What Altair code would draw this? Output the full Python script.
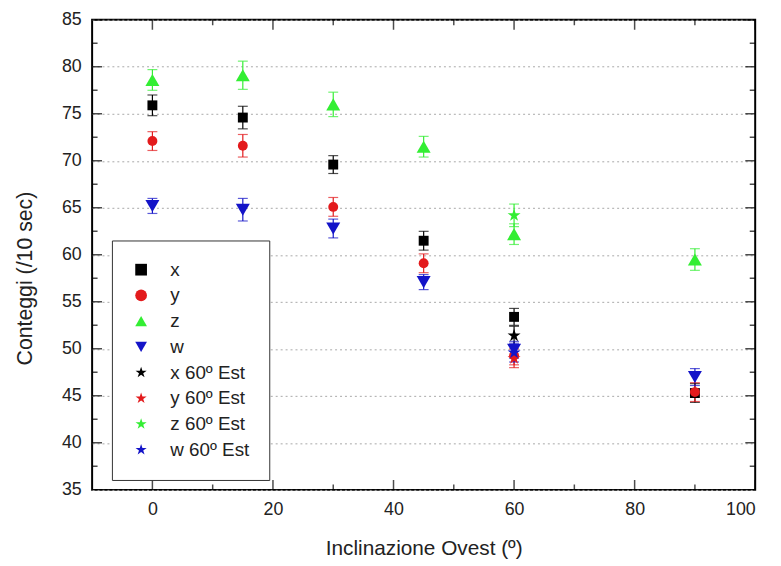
import altair as alt
import pandas as pd

# five-point star as a unit SVG path (Vega has no built-in star symbol)
STAR = ("M0,-1L0.225,-0.309L0.951,-0.309L0.363,0.118L0.588,0.809L0,0.382"
        "L-0.588,0.809L-0.363,0.118L-0.951,-0.309L-0.225,-0.309Z")

series = ["x", "y", "z", "w", "x 60º Est", "y 60º Est", "z 60º Est", "w 60º Est"]
colors = ["#000000", "#e31a1c", "#33ee33", "#1414c8", "#000000", "#e31a1c", "#33ee33", "#1414c8"]
shapes = ["square", "circle", "triangle-up", "triangle-down", STAR, STAR, STAR, STAR]
sizes = [100, 100, 200, 200, 190, 190, 190, 190]

angles = [0, 15, 30, 45, 60, 90]
x_vals = [75.9, 74.6, 69.6, 61.5, 53.4, 45.3]
x_err = [1.1, 1.2, 0.95, 1.0, 0.9, 1.0]
y_vals = [72.1, 71.6, 65.1, 59.1, 49.3, 45.4]
y_err = [1.0, 1.2, 1.0, 1.0, 1.0, 1.0]
z_vals = [78.6, 79.1, 76.0, 71.5, 62.2, 59.5]
z_err = [1.1, 1.5, 1.3, 1.1, 1.1, 1.15]
w_vals = [65.2, 64.8, 62.8, 57.1, 49.9, 47.0]
w_err = [0.8, 1.2, 1.0, 0.8, 0.9, 0.9]
est_angle = 60
est_vals = [51.4, 49.0, 64.2, 49.6]
est_err = [1.0, 1.0, 1.2, 1.0]

x_domain = [-10, 100]
y_domain = [35, 85]
x_major = [0, 20, 40, 60, 80, 100]
x_minor = [10, 30, 50, 70, 90]
y_major = [35, 40, 45, 50, 55, 60, 65, 70, 75, 80, 85]
y_minor = [37.5, 42.5, 47.5, 52.5, 57.5, 62.5, 67.5, 72.5, 77.5, 82.5]

size_of = dict(zip(series, sizes))
rows = []
for name, vals, errs in zip(series[:4], [x_vals, y_vals, z_vals, w_vals], [x_err, y_err, z_err, w_err]):
    for a, v, e in zip(angles, vals, errs):
        rows.append(dict(series=name, angle=a, val=v, lo=v - e, hi=v + e, msize=size_of[name]))
for name, v, e in zip(series[4:], est_vals, est_err):
    rows.append(dict(series=name, angle=est_angle, val=v, lo=v - e, hi=v + e, msize=size_of[name]))
df = pd.DataFrame(rows)

W, H = 670, 475
FONT = "Liberation Sans"
xscale = alt.Scale(domain=x_domain, nice=False, zero=False)
yscale = alt.Scale(domain=y_domain, nice=False, zero=False)
cscale = alt.Scale(domain=series, range=colors)
sscale = alt.Scale(domain=series, range=shapes)

x_axis = alt.Axis(values=x_major, ticks=False, domain=False, grid=False,
                  labelFontSize=18, labelFont=FONT, labelColor="#222", labelPadding=11,
                  title="Inclinazione Ovest (º)", titleFont=FONT, titleFontSize=21,
                  titleFontWeight="normal", titleColor="#222", titlePadding=19)
y_axis = alt.Axis(values=y_major, ticks=False, domain=False, grid=True,
                  gridDash=[2, 3], gridColor="#a8a8a8", gridWidth=1,
                  labelFontSize=18, labelFont=FONT, labelColor="#222", labelPadding=11,
                  title="Conteggi (/10 sec)", titleFont=FONT, titleFontSize=21.5,
                  titleFontWeight="normal", titleColor="#222", titlePadding=25, titleY=261)

legend = alt.Legend(orient="none", legendX=20, legendY=223,
                    labelFontSize=19, labelFont=FONT, labelColor="#222",
                    symbolSize=140, symbolStrokeWidth=0, symbolOpacity=1, rowPadding=6,
                    labelOffset=20, padding=20, strokeColor="#333", fillColor="white")

base = alt.Chart(df)

bars = base.mark_rule(strokeWidth=1.2).encode(
    x=alt.X("angle:Q", scale=xscale, axis=x_axis),
    y=alt.Y("lo:Q", scale=yscale, axis=y_axis),
    y2="hi:Q",
    color=alt.Color("series:N", scale=cscale, title=None, legend=legend),
)
cap_lo = base.mark_tick(orient="horizontal", size=10, thickness=1.2).encode(
    x=alt.X("angle:Q", scale=xscale), y=alt.Y("lo:Q", scale=yscale),
    color=alt.Color("series:N", scale=cscale, title=None, legend=legend),
)
cap_hi = base.mark_tick(orient="horizontal", size=10, thickness=1.2).encode(
    x=alt.X("angle:Q", scale=xscale), y=alt.Y("hi:Q", scale=yscale),
    color=alt.Color("series:N", scale=cscale, title=None, legend=legend),
)
points = base.mark_point(filled=True, opacity=1).encode(
    x=alt.X("angle:Q", scale=xscale),
    y=alt.Y("val:Q", scale=yscale),
    color=alt.Color("series:N", scale=cscale, title=None, legend=legend),
    shape=alt.Shape("series:N", scale=sscale, title=None, legend=legend),
    size=alt.Size("msize:Q", scale=None, legend=None),
)


def y_ticks(values, edge, length):
    d = pd.DataFrame({"v": values, "edge": [edge] * len(values)})
    return alt.Chart(d).mark_tick(orient="horizontal", size=length, thickness=1.5,
                                  color="black", clip=True).encode(
        x=alt.X("edge:Q", scale=xscale), y=alt.Y("v:Q", scale=yscale))


def x_ticks(values, edge, length):
    d = pd.DataFrame({"v": values, "edge": [edge] * len(values)})
    return alt.Chart(d).mark_tick(orient="vertical", size=length, thickness=1.5,
                                  color="black", clip=True).encode(
        x=alt.X("v:Q", scale=xscale), y=alt.Y("edge:Q", scale=yscale))


frame_ticks = [
    y_ticks(y_major, x_domain[0], 20), y_ticks(y_minor, x_domain[0], 11),
    y_ticks(y_major, x_domain[1], 20), y_ticks(y_minor, x_domain[1], 11),
    x_ticks(x_major, y_domain[0], 20), x_ticks(x_minor, y_domain[0], 11),
    x_ticks(x_major, y_domain[1], 20), x_ticks(x_minor, y_domain[1], 11),
]

chart = alt.layer(bars, cap_lo, cap_hi, *frame_ticks, points).properties(
    width=W, height=H,
    padding={"left": 85, "top": 9, "right": 18, "bottom": 72},
    autosize=alt.AutoSizeParams(type="none"),
    background="white",
).configure_view(stroke="black", strokeWidth=2)

chart.save("out.html", embed_options={"renderer": "svg", "actions": False})
